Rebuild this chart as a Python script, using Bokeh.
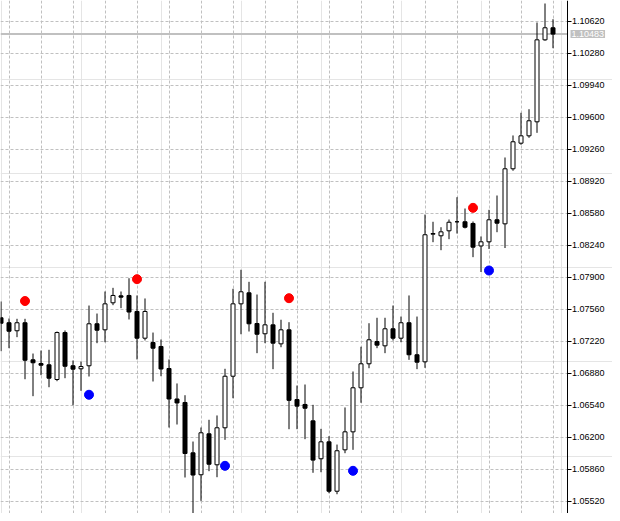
from bokeh.plotting import figure
from bokeh.models import (ColumnDataSource, Range1d, LinearAxis, FixedTicker, Grid,
                          Label, PrintfTickFormatter)
from bokeh.embed import file_html
from bokeh.resources import INLINE

# ---- data (candles) ----
opens = [1.07469, 1.07416, 1.07331, 1.07416, 1.07022, 1.06983, 1.06969, 1.06813, 1.07312, 1.06959,
         1.06927, 1.06959, 1.07405, 1.07341, 1.07628, 1.07702, 1.07706, 1.07536, 1.07252, 1.07206,
         1.07164, 1.06930, 1.06606, 1.06569, 1.06034, 1.05801, 1.06236, 1.05907, 1.06300, 1.06848,
         1.07617, 1.07734, 1.07408, 1.07299, 1.07394, 1.07192, 1.07341, 1.06600, 1.06548, 1.06374,
         1.05971, 1.06151, 1.05626, 1.06066, 1.06257, 1.06725, 1.06980, 1.07217, 1.07171, 1.07352,
         1.07252, 1.07416, 1.07076, 1.07001, 1.08357, 1.08340, 1.08393, 1.08489, 1.08489, 1.08471,
         1.08232, 1.08276, 1.08510, 1.08467, 1.09052, 1.09324, 1.09402, 1.09551, 1.10422, 1.10550]
highs = [1.07642, 1.07461, 1.07458, 1.07458, 1.07089, 1.07121, 1.07129, 1.07323, 1.07334, 1.07015,
         1.07004, 1.07599, 1.07514, 1.07748, 1.07787, 1.07748, 1.07889, 1.07706, 1.07674, 1.07312,
         1.07238, 1.07026, 1.06771, 1.06646, 1.06154, 1.06303, 1.06385, 1.06431, 1.06927, 1.07777,
         1.07979, 1.07851, 1.07716, 1.07851, 1.07522, 1.07448, 1.07422, 1.06749, 1.06760, 1.06544,
         1.06289, 1.06211, 1.06122, 1.06516, 1.06898, 1.07161, 1.07411, 1.07469, 1.07469, 1.07599,
         1.07482, 1.07706, 1.07482, 1.08566, 1.08489, 1.08431, 1.08513, 1.08750, 1.08630, 1.08492,
         1.08333, 1.08616, 1.08768, 1.09172, 1.09406, 1.09647, 1.09685, 1.10606, 1.10808, 1.10641]
lows = [1.07114, 1.07146, 1.07263, 1.06816, 1.06636, 1.06859, 1.06731, 1.06795, 1.06827, 1.06540,
        1.06693, 1.06845, 1.07199, 1.07209, 1.07603, 1.07571, 1.07451, 1.07026, 1.07228, 1.06792,
        1.06848, 1.06303, 1.06335, 1.05772, 1.05320, 1.05524, 1.05839, 1.05775, 1.06172, 1.06614,
        1.07294, 1.07323, 1.07093, 1.07199, 1.06923, 1.07156, 1.06285, 1.06285, 1.06179, 1.05822,
        1.05828, 1.05605, 1.05594, 1.06030, 1.06066, 1.06566, 1.06933, 1.07146, 1.07093, 1.07228,
        1.07209, 1.07022, 1.06923, 1.06937, 1.08272, 1.08187, 1.08304, 1.08364, 1.08418, 1.08113,
        1.07955, 1.08200, 1.08378, 1.08210, 1.09031, 1.09307, 1.09381, 1.09434, 1.10412, 1.10333]
closes = [1.07411, 1.07326, 1.07416, 1.07018, 1.06991, 1.06965, 1.06827, 1.07312, 1.06954, 1.06923,
          1.06951, 1.07405, 1.07337, 1.07617, 1.07706, 1.07688, 1.07530, 1.07252, 1.07536, 1.07146,
          1.06925, 1.06606, 1.06564, 1.06027, 1.05798, 1.06247, 1.05913, 1.06300, 1.06848, 1.07617,
          1.07745, 1.07405, 1.07294, 1.07394, 1.07199, 1.07341, 1.06592, 1.06530, 1.06508, 1.05957,
          1.06151, 1.05626, 1.06056, 1.06257, 1.06725, 1.06980, 1.07235, 1.07178, 1.07352, 1.07252,
          1.07416, 1.07076, 1.06997, 1.08351, 1.08364, 1.08382, 1.08484, 1.08489, 1.08431, 1.08219,
          1.08276, 1.08510, 1.08474, 1.09052, 1.09339, 1.09402, 1.09562, 1.10422, 1.10550, 1.10483]

# fractal markers
red_idx = [3, 17, 36, 59]
red_vals = [1.07647, 1.07879, 1.07677, 1.08637]
blue_idx = [11, 28, 44, 61]
blue_vals = [1.06651, 1.05896, 1.05843, 1.07971]

price_ticks = [1.05520, 1.05860, 1.06200, 1.06540, 1.06880, 1.07220, 1.07560, 1.07900,
               1.08240, 1.08580, 1.08920, 1.09260, 1.09600, 1.09940, 1.10280, 1.10620]
current_price = 1.10483

# ---- build ----
X_START, X_END = -0.0625, 76.4375      # full width of the chart window (bars)
AXIS_X = 70.75                         # price scale sits just right of the last bar
TAG_X = 71.19

idx = list(range(len(opens)))
bull = [c >= o for o, c in zip(opens, closes)]
src = ColumnDataSource(dict(
    x=idx, o=opens, h=highs, l=lows, c=closes,
    top=[max(o, c) for o, c in zip(opens, closes)],
    bot=[min(o, c) for o, c in zip(opens, closes)],
    fill=["white" if b else "black" for b in bull],
))

p = figure(width=612, height=513, output_backend="svg", toolbar_location=None,
           x_range=Range1d(X_START, X_END), y_range=Range1d(1.053894, 1.10840),
           x_axis_location=None, y_axis_location=None,
           min_border_left=0, min_border_right=0, min_border_top=0, min_border_bottom=0,
           background_fill_color="white", border_fill_color="white",
           outline_line_color=None)

vgrid = Grid(dimension=0, ticker=FixedTicker(ticks=list(range(1, 70, 4))),
             grid_line_color="#C0C0C0", grid_line_dash="3 2", grid_line_width=1)
p.add_layout(vgrid)
if "cross_bounds" in Grid.properties():
    hgrid = Grid(dimension=1, ticker=FixedTicker(ticks=price_ticks),
                 cross_bounds=(X_START, AXIS_X),
                 grid_line_color="#C0C0C0", grid_line_dash="3 2", grid_line_width=1)
    p.add_layout(hgrid)
else:
    p.segment(x0=[X_START] * len(price_ticks), x1=[AXIS_X] * len(price_ticks),
              y0=price_ticks, y1=price_ticks,
              line_color="#C0C0C0", line_dash="3 2", line_width=1)

# current price line
p.segment(x0=[X_START], x1=[AXIS_X], y0=[current_price], y1=[current_price],
          line_color="#C0C0C0", line_width=2)

p.segment(x0="x", y0="l", x1="x", y1="h", source=src, line_color="black", line_width=1)
p.vbar(x="x", width=0.5, top="top", bottom="bot", source=src,
       fill_color="fill", line_color="black", line_width=1)

p.scatter(red_idx, red_vals, size=9, marker="circle", fill_color="#FF0000", line_color="#FF0000")
p.scatter(blue_idx, blue_vals, size=9, marker="circle", fill_color="#0000FF", line_color="#0000FF")

axis = LinearAxis(ticker=FixedTicker(ticks=price_ticks),
                  formatter=PrintfTickFormatter(format="%.5f"),
                  fixed_location=AXIS_X,
                  axis_line_color="black", axis_line_width=1,
                  major_tick_line_color="black", major_tick_out=4, major_tick_in=0,
                  minor_tick_line_color=None,
                  major_label_standoff=1,
                  major_label_text_font="Liberation Sans",
                  major_label_text_font_size="9px",
                  major_label_text_color="black")
p.add_layout(axis, "right")

# price tag beside the axis
p.add_layout(Label(x=TAG_X, y=current_price, text="%.5f" % current_price,
                   text_font="Liberation Sans", text_font_size="9px",
                   text_color="white", text_align="left", text_baseline="middle",
                   background_fill_color="#C0C0C0", padding=1, level="overlay"))

open("out.html", "w").write(file_html(p, INLINE))
